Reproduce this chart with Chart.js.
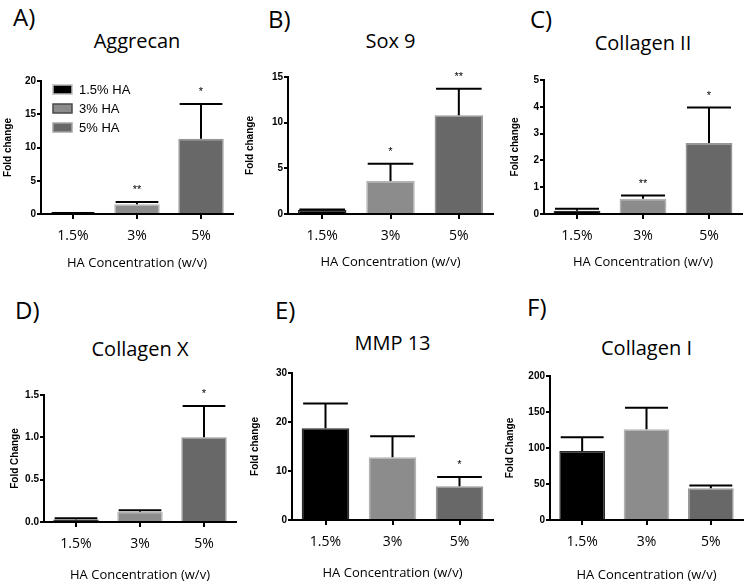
<!DOCTYPE html>
<html><head><meta charset="utf-8">
<script src="https://cdn.jsdelivr.net/npm/chart.js@4"></script>
<style>
body{margin:0;background:#fff;width:755px;height:582px;overflow:hidden;position:relative;font-family:'Open Sans',sans-serif;}
canvas{position:absolute;}
.lbl{position:absolute;font-size:24px;line-height:1;color:#000;white-space:nowrap;}
.ttl{position:absolute;font-size:20px;line-height:1;color:#000;white-space:nowrap;transform:translateX(-50%);}
</style></head><body>
<script>
// ---- data ----
const categories = ['1.5%', '3%', '5%'];
const legendLabels = ['1.5% HA', '3% HA', '5% HA'];
const xAxisTitle = 'HA Concentration (w/v)';

const aggrecanMean = [0.1, 1.45, 11.3];
const aggrecanErr  = [0.05, 0.35, 5.25];
const aggrecanSig  = ['', '**', '*'];
const aggrecanTicks = [0, 5, 10, 15, 20];

const sox9Mean = [0.45, 3.6, 10.8];
const sox9Err  = [0.05, 1.9, 2.9];
const sox9Sig  = ['', '*', '**'];
const sox9Ticks = [0, 5, 10, 15];

const col2Mean = [0.12, 0.57, 2.65];
const col2Err  = [0.08, 0.12, 1.32];
const col2Sig  = ['', '**', '*'];
const col2Ticks = [0, 1, 2, 3, 4, 5];

const col10Mean = [0.03, 0.12, 1.0];
const col10Err  = [0.015, 0.02, 0.37];
const col10Sig  = ['', '', '*'];
const col10Ticks = [0.0, 0.5, 1.0, 1.5];

const mmp13Mean = [18.7, 12.8, 6.9];
const mmp13Err  = [5.1, 4.3, 1.9];
const mmp13Sig  = ['', '', '*'];
const mmp13Ticks = [0, 10, 20, 30];

const col1Mean = [96, 126, 44];
const col1Err  = [19, 30, 4];
const col1Sig  = ['', '', ''];
const col1Ticks = [0, 50, 100, 150, 200];

// ---- styles ----
const barColors  = ['#000000', '#8c8c8c', '#686868'];
const barBorders = ['#2a2a2a', '#b2b2b2', '#979797'];
const legendBorders = ['#bdbdbd', '#4a4a4a', '#a5a5a5'];

const panels = [
  {letter:'A)', lx:13, ly:5, title:'Aggrecan', ty:31, mean:aggrecanMean, err:aggrecanErr, sig:aggrecanSig, ticks:aggrecanTicks, yTitle:'Fold change', dec:0,
   l:41, r:233, t:81, b:214, yTitleX:8, xTitleY:263, legend:true},
  {letter:'B)', lx:268, ly:7, title:'Sox 9', ty:31, mean:sox9Mean, err:sox9Err, sig:sox9Sig, ticks:sox9Ticks, yTitle:'Fold change', dec:0,
   l:288, r:493, t:77, b:214, yTitleX:250, xTitleY:262},
  {letter:'C)', lx:530, ly:7, title:'Collagen II', ty:33, mean:col2Mean, err:col2Err, sig:col2Sig, ticks:col2Ticks, yTitle:'Fold change', dec:0,
   l:544, r:742, t:80, b:214, yTitleX:515, xTitleY:262},
  {letter:'D)', lx:15, ly:298, title:'Collagen X', ty:339, mean:col10Mean, err:col10Err, sig:col10Sig, ticks:col10Ticks, yTitle:'Fold Change', dec:1,
   l:44, r:236, t:395, b:522, yTitleX:15, xTitleY:575},
  {letter:'E)', lx:275, ly:298, title:'MMP 13', ty:333, mean:mmp13Mean, err:mmp13Err, sig:mmp13Sig, ticks:mmp13Ticks, yTitle:'Fold change', dec:0,
   l:292, r:493, t:373, b:520, yTitleX:255, xTitleY:573},
  {letter:'F)', lx:527, ly:295, title:'Collagen I', ty:338, mean:col1Mean, err:col1Err, sig:col1Sig, ticks:col1Ticks, yTitle:'Fold Change', dec:0,
   l:550, r:743, t:376, b:520, yTitleX:510, xTitleY:575}
];

const errPlugin = {
  id: 'errbars',
  afterDatasetsDraw(chart, args, opts) {
    const ctx = chart.ctx, meta = chart.getDatasetMeta(0), ys = chart.scales.y;
    const ds = chart.data.datasets[0];
    meta.data.forEach((bar, i) => {
      const mean = ds.data[i], e = opts.err[i];
      const yTop = ys.getPixelForValue(mean + e), yBar = ys.getPixelForValue(mean);
      const half = bar.width * 0.47;
      ctx.save();
      ctx.strokeStyle = '#000'; ctx.lineWidth = 2;
      ctx.beginPath();
      ctx.moveTo(bar.x, yBar); ctx.lineTo(bar.x, yTop);
      ctx.moveTo(bar.x - half, yTop); ctx.lineTo(bar.x + half, yTop);
      ctx.stroke();
      if (opts.sig[i]) {
        ctx.fillStyle = '#000'; ctx.font = '11px "Liberation Sans"';
        ctx.textAlign = 'center'; ctx.textBaseline = 'middle';
        ctx.fillText(opts.sig[i], bar.x, yTop - 12);
      }
      ctx.restore();
    });
  }
};

const legendPlugin = {
  id: 'boxlegend',
  afterDraw(chart, args, opts) {
    if (!opts.show) return;
    const ctx = chart.ctx, ca = chart.chartArea;
    legendLabels.forEach((lab, i) => {
      const x = ca.left + 12, y = ca.top + 8 + i * 19;
      ctx.save();
      ctx.fillStyle = barColors[i]; ctx.fillRect(x, y - 4, 19, 9);
      ctx.strokeStyle = legendBorders[i]; ctx.lineWidth = 1.5; ctx.strokeRect(x, y - 4, 19, 9);
      ctx.fillStyle = '#000'; ctx.font = '13px "Liberation Sans"';
      ctx.textAlign = 'left'; ctx.textBaseline = 'middle';
      ctx.fillText(lab, x + 26, y + 1);
      ctx.restore();
    });
  }
};

panels.forEach(p => {
  const L = document.createElement('div'); L.className = 'lbl'; L.textContent = p.letter;
  L.style.left = p.lx + 'px'; L.style.top = p.ly + 'px'; document.body.appendChild(L);
  const T = document.createElement('div'); T.className = 'ttl'; T.textContent = p.title;
  T.style.left = ((p.l + p.r) / 2) + 'px'; T.style.top = p.ty + 'px'; document.body.appendChild(T);

  const cl = p.yTitleX - 6, ct = p.t - 22, cr = p.r + 6, cb = p.xTitleY + 12;
  const w = cr - cl, h = cb - ct;
  const cv = document.createElement('canvas');
  cv.width = w; cv.height = h;
  cv.style.left = cl + 'px'; cv.style.top = ct + 'px';
  cv.style.width = w + 'px'; cv.style.height = h + 'px';
  document.body.appendChild(cv);

  const lh = 13 * 1.2 / 2;
  new Chart(cv, {
    type: 'bar',
    data: { labels: categories, datasets: [{
      data: p.mean, backgroundColor: barColors, borderColor: barBorders, borderWidth: 1.5,
      barPercentage: 0.71, categoryPercentage: 1
    }]},
    options: {
      responsive: false, animation: false, devicePixelRatio: 1,
      layout: { padding: { left: 0, top: p.t - ct, right: 6, bottom: cb - (p.xTitleY + lh) } },
      plugins: {
        legend: { display: false }, tooltip: { enabled: false },
        errbars: { err: p.err, sig: p.sig },
        boxlegend: { show: !!p.legend }
      },
      scales: {
        x: {
          afterFit: s => { s.height = p.xTitleY + lh - p.b; },
          grid: { display: true, offset: false, drawOnChartArea: false, drawTicks: true, tickLength: 5, color: '#000', lineWidth: 2 },
          border: { display: true, color: '#000', width: 2 },
          ticks: { color: '#000', font: { family: 'Open Sans', size: 14 }, padding: 9 },
          title: { display: true, text: xAxisTitle, color: '#000', font: { family: 'Open Sans', size: 13 }, padding: 0 }
        },
        y: {
          min: p.ticks[0], max: p.ticks[p.ticks.length - 1],
          afterFit: s => { s.width = p.l - cl; },
          afterBuildTicks: s => { s.ticks = p.ticks.map(v => ({ value: v })); },
          grid: { display: true, drawOnChartArea: false, drawTicks: true, tickLength: 4, color: '#000', lineWidth: 2 },
          border: { display: true, color: '#000', width: 2 },
          ticks: { color: '#000', font: { family: 'Liberation Sans', size: 10, weight: 'bold' }, padding: 1,
                   callback: v => Number(v).toFixed(p.dec) },
          title: { display: true, text: p.yTitle, color: '#000', font: { family: 'Liberation Sans', size: 10, weight: 'bold' }, padding: 0 }
        }
      }
    },
    plugins: [errPlugin, legendPlugin]
  });
});
</script>
</body></html>
